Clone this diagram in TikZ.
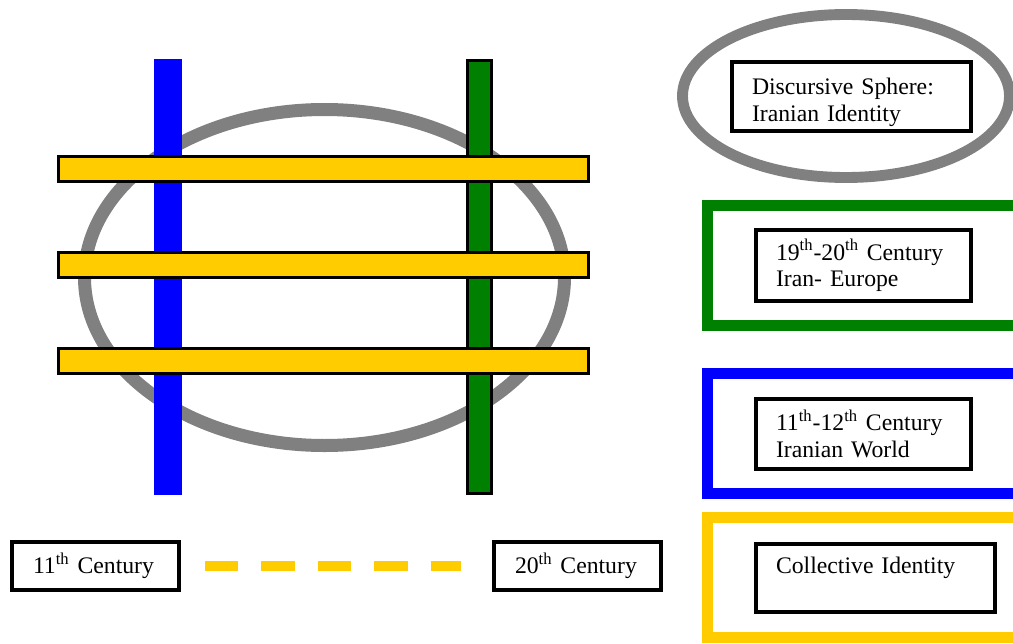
\documentclass[tikz,border=0pt]{standalone}
\usepackage{fontspec}
\setmainfont{Liberation Serif}
\definecolor{sphgray}{RGB}{128,128,128}
\definecolor{barblue}{RGB}{0,0,255}
\definecolor{bargreen}{RGB}{0,128,0}
\definecolor{baryellow}{RGB}{255,204,0}

\begin{document}
\begin{tikzpicture}[
  colbar/.style={draw=black,line width=1.7pt},
  legframe/.style={line width=6.2pt},
  legnote/.style={draw=black,line width=2.2pt,fill=white,align=left,
    inner xsep=0.4cm,inner ysep=0pt,font=\fontsize{13.5}{15}\selectfont},
]
  \useasboundingbox (0,0) rectangle (20.26,12.86);
  \clip (0,0) rectangle (20.26,12.86);
  % 话语领域：灰色椭圆
  \draw[sphgray,line width=7.4pt] (6.49,7.31) ellipse (4.80 and 3.36);
  % 竖条：蓝 11-12 世纪，绿 19-20 世纪
  \fill[barblue] (3.08,2.96) rectangle (3.64,11.68);
  \draw[colbar,fill=bargreen] (9.35,2.99) rectangle (9.83,11.65);
  % 横条：集体认同
  \foreach \y in {9.48,7.56,5.64}
    \draw[colbar,fill=baryellow] (1.17,\y-0.25) rectangle (11.77,\y+0.25);
  % 时间轴
  \node[legnote,text width=2.50cm,inner xsep=0.42cm,minimum height=0.96cm] (c11) at (1.91,1.54) {11\textsuperscript{th} Century};
  \node[legnote,text width=2.50cm,inner xsep=0.42cm,minimum height=0.96cm] (c20) at (11.55,1.54) {20\textsuperscript{th} Century};
  \draw[baryellow,line width=5.7pt,dash pattern=on 0.67cm off 0.46cm,shorten <=0.48cm,shorten >=0.63cm] (c11.east) -- (c20.west);
  % 图例：椭圆与三个色框
  \draw[sphgray,line width=6.2pt] (16.92,10.94) ellipse (3.27 and 1.63);
  \draw[bargreen,legframe] (14.15,6.35) rectangle (21.0,8.75);
  \draw[barblue,legframe] (14.15,2.99) rectangle (21.0,5.39);
  \draw[baryellow,legframe] (14.15,0.11) rectangle (21.0,2.51);
  \node[legnote,text width=3.98cm,minimum height=1.38cm] (sphere) at (17.03,10.93) {\rule{0pt}{16pt}Discursive Sphere:\\Iranian Identity};
  \node[legnote,text width=3.50cm,minimum height=1.42cm] (modern) at (17.27,7.55) {19\textsuperscript{th}-20\textsuperscript{th} Century\\Iran- Europe};
  \node[legnote,text width=3.50cm,minimum height=1.40cm] (medieval) at (17.27,4.18) {11\textsuperscript{th}-12\textsuperscript{th} Century\\Iranian World};
  \node[legnote,text width=3.98cm,minimum height=1.36cm] (collective) at (17.51,1.30) {Collective Identity\\\mbox{}};
\end{tikzpicture}
\end{document}
